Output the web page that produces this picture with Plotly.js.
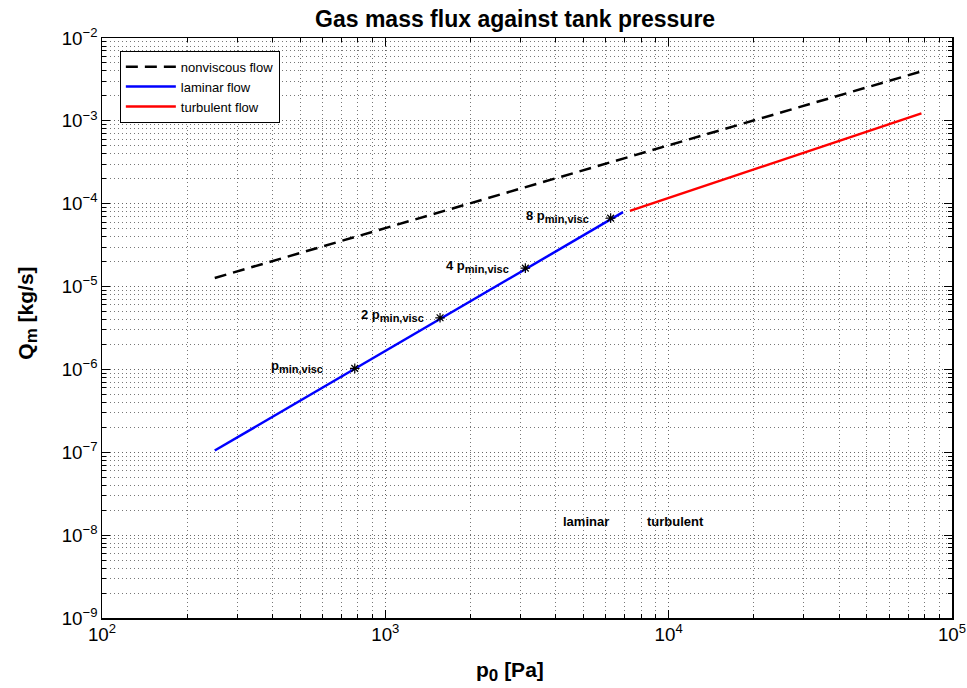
<!DOCTYPE html>
<html>
<head>
<meta charset="utf-8">
<script src="https://cdn.plot.ly/plotly-3.0.1.min.js"></script>
<style>html,body{margin:0;padding:0;background:#fff;}#chart{width:967px;height:688px;}</style>
</head>
<body>
<div id="chart"></div>
<script>
// Data
var nonviscousP = [250, 78000];
var nonviscousQ = [1.27e-5, 3.95e-3];
var laminarP = [250, 6900];
var laminarQ = [1.05e-7, 7.9e-5];
var turbulentP = [7300, 78000];
var turbulentQ = [8.2e-5, 1.23e-3];
var starP = [780, 1560, 3120, 6240];
var starQ = [1.03e-6, 4.2e-6, 1.67e-5, 6.7e-5];
var starPrefix = ['', '2 ', '4 ', '8 '];
var starShift = [-30, -14, -14, -20];
var regionLabels = ['laminar', 'turbulent'];
var regionP = [5100, 8250];
var regionQ = 1.45e-8;

var FONT = 'Liberation Sans, Arial, Helvetica, sans-serif';

var traces = [
  {x: nonviscousP, y: nonviscousQ, mode: 'lines', name: 'nonviscous flow',
   line: {color: '#000', width: 2.5, dash: '12px,7px'}},
  {x: laminarP, y: laminarQ, mode: 'lines', name: 'laminar flow',
   line: {color: '#0000ff', width: 2.5}},
  {x: turbulentP, y: turbulentQ, mode: 'lines', name: 'turbulent flow',
   line: {color: '#ff0000', width: 2.5}},
  {x: starP, y: starQ, mode: 'markers', showlegend: false,
   marker: {symbol: 'asterisk-open', size: 8, color: '#000', line: {color: '#000', width: 1.2}}}
];

var annotations = [];
for (var i = 0; i < starP.length; i++) {
  annotations.push({x: Math.log10(starP[i]), y: Math.log10(starQ[i]), xref: 'x', yref: 'y',
    text: '<b>' + starPrefix[i] + 'p<sub><span style="font-size:11px">min,visc</span></sub></b>',
    showarrow: false, xanchor: 'right', yanchor: 'middle',
    xshift: starShift[i], yshift: 2, font: {family: FONT, size: 13, color: '#000'}});
}
annotations.push({x: Math.log10(regionP[0]), y: Math.log10(regionQ), xref: 'x', yref: 'y',
  text: '<b>' + regionLabels[0] + '</b>', showarrow: false, xanchor: 'center', yanchor: 'middle',
  font: {family: FONT, size: 13, color: '#000'}});
annotations.push({x: Math.log10(regionP[1]), y: Math.log10(regionQ), xref: 'x', yref: 'y',
  text: '<b>' + regionLabels[1] + '</b>', showarrow: false, xanchor: 'left', yanchor: 'middle',
  font: {family: FONT, size: 13, color: '#000'}});
// axis titles (placed where the reference draws them)
annotations.push({x: 0.48, y: -0.093, xref: 'paper', yref: 'paper', showarrow: false,
  xanchor: 'center', yanchor: 'middle', text: '<b>p<sub><span style="font-size:17px">0</span></sub> [Pa]</b>',
  font: {family: FONT, size: 21, color: '#000'}});
annotations.push({x: -0.088, y: 0.525, xref: 'paper', yref: 'paper', showarrow: false, textangle: -90,
  xanchor: 'center', yanchor: 'middle', text: '<b>Q<sub><span style="font-size:17px">m</span></sub> [kg/s]</b>',
  font: {family: FONT, size: 21, color: '#000'}});

var axisCommon = {
  type: 'log', showline: true, linecolor: '#000', linewidth: 1.5, mirror: 'allticks',
  ticks: 'inside', ticklen: 8, tickwidth: 1, tickcolor: '#000',
  showgrid: true, gridcolor: '#666', griddash: '1px,3px', gridwidth: 1,
  zeroline: false, exponentformat: 'power', dtick: 1,
  tickfont: {family: FONT, size: 15, color: '#000'},
  minor: {ticks: 'inside', ticklen: 4, tickcolor: '#000', showgrid: true, gridcolor: '#777', griddash: '1px,3px', gridwidth: 1}
};

var layout = {
  width: 967, height: 688,
  margin: {l: 102, r: 15, t: 38, b: 70},
  paper_bgcolor: '#fff', plot_bgcolor: '#fff',
  title: {text: '<b>Gas mass flux against tank pressure</b>', x: 0.486, xref: 'paper', xanchor: 'center',
          y: 0.972, yref: 'container', yanchor: 'middle',
          font: {family: FONT, size: 23, color: '#000'}},
  xaxis: Object.assign({}, axisCommon, {range: [2, 5]}),
  yaxis: Object.assign({}, axisCommon, {range: [-9, -2]}),
  legend: {x: 0.021, y: 0.978, xanchor: 'left', yanchor: 'top', bgcolor: '#fff', bordercolor: '#000', borderwidth: 1,
           font: {family: FONT, size: 13, color: '#000'}, itemwidth: 50, tracegroupgap: 0},
  annotations: annotations,
  showlegend: true
};

Plotly.newPlot('chart', traces, layout, {displayModeBar: false, staticPlot: true});
</script>
</body>
</html>
